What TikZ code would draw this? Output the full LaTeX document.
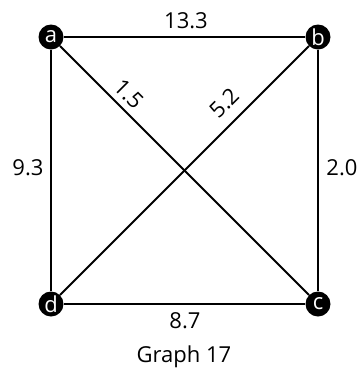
\documentclass[tikz,border=0pt]{standalone}
\usepackage{fontspec}
\setmainfont{Open Sans}
\begin{document}
\begin{tikzpicture}[x=1pt,y=-1pt,
  vtx/.style={circle,fill=black,text=white,minimum size=25pt,inner sep=0pt,font=\fontsize{22}{22}\selectfont},
  edge/.style={line width=1.8pt},
  lbl/.style={font=\fontsize{22}{22}\selectfont,inner sep=0pt}]
\useasboundingbox (0,0) rectangle (362,376);
\node[vtx] (a) at (51,37) {a};
\node[vtx] (b) at (318,37) {b};
\node[vtx] (c) at (318,304) {c};
\node[vtx] (d) at (51,304) {d};
\draw[edge] (a) -- (b);
\draw[edge] (b) -- (c);
\draw[edge] (c) -- (d);
\draw[edge] (d) -- (a);
\draw[edge] (a) -- node[lbl,sloped,pos=0.235,above=5.5pt] (l5) {1.5} (c);
\draw[edge] (d) -- node[lbl,sloped,pos=0.716,above=11pt] (l6) {5.2} (b);
\node[lbl] (l1) at (186,21) {13.3};
\node[lbl] (l2) at (28,168) {9.3};
\node[lbl] (l3) at (342,168) {2.0};
\node[lbl] (l4) at (185,321) {8.7};
\node[lbl] (cap) at (184,357) {Graph 17};
\end{tikzpicture}
\end{document}
